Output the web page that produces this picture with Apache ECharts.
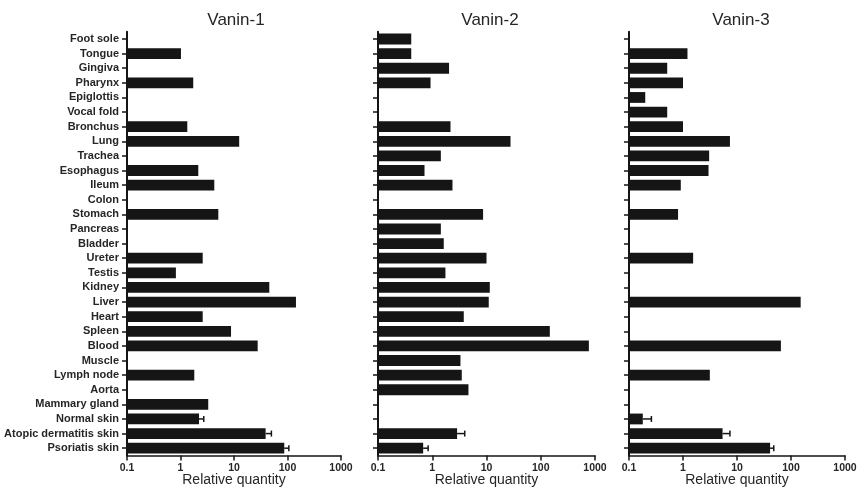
<!DOCTYPE html>
<html>
<head>
<meta charset="utf-8">
<script src="https://cdn.jsdelivr.net/npm/echarts@6/dist/echarts.min.js"></script>
<style>
  html, body { margin: 0; padding: 0; background: #fff; }
  #chart { width: 857px; height: 490px; }
</style>
</head>
<body>
<div id="chart"></div>
<script>
// Tissues, top to bottom
const tissues = [
  'Foot sole', 'Tongue', 'Gingiva', 'Pharynx', 'Epiglottis', 'Vocal fold',
  'Bronchus', 'Lung', 'Trachea', 'Esophagus', 'Ileum', 'Colon', 'Stomach',
  'Pancreas', 'Bladder', 'Ureter', 'Testis', 'Kidney', 'Liver', 'Heart',
  'Spleen', 'Blood', 'Muscle', 'Lymph node', 'Aorta', 'Mammary gland',
  'Normal skin', 'Atopic dermatitis skin', 'Psoriatis skin'
];

// Relative quantity per tissue (null = not detected)
const vanin1 = [null, 1.02, null, 1.73, null, null, 1.34, 12.5, null, 2.15, 4.28, null, 5.09,
  null, null, 2.6, 0.82, 45.7, 144, 2.6, 8.8, 27.7, null, 1.81, null, 3.3,
  2.22, 39, 87];
const vanin2 = [0.41, 0.41, 2.04, 0.93, null, null, 2.17, 27.7, 1.44, 0.72, 2.36, null, 8.65,
  1.44, 1.63, 10.0, 1.75, 11.5, 11.0, 3.81, 147, 771, 3.31, 3.5, 4.65, null,
  null, 2.87, 0.68];
const vanin3 = [null, 1.21, 0.51, 1.0, 0.2, 0.51, 1.0, 7.4, 3.05, 2.97, 0.91, null, 0.81,
  null, null, 1.54, null, null, 151, null, null, 65, null, 3.14, null, null,
  0.18, 5.4, 41];

// SEM for the skin samples (null = no error bar)
const vanin1Sem = [null, null, null, null, null, null, null, null, null, null, null, null, null,
  null, null, null, null, null, null, null, null, null, null, null, null, null,
  0.5, 11, 19];
const vanin2Sem = [null, null, null, null, null, null, null, null, null, null, null, null, null,
  null, null, null, null, null, null, null, null, null, null, null, null, null,
  null, 1.1, 0.16];
const vanin3Sem = [null, null, null, null, null, null, null, null, null, null, null, null, null,
  null, null, null, null, null, null, null, null, null, null, null, null, null,
  0.08, 2.0, 7];

const panelTitles = ['Vanin-1', 'Vanin-2', 'Vanin-3'];
const axisTitle = 'Relative quantity';
const xMin = 0.1, xMax = 1000;

const FONT = "'Liberation Sans', Arial, Helvetica, sans-serif";
const INK = '#151515';
const TEXT = '#262626';

const panels = [
  { values: vanin1, sem: vanin1Sem, left: 127, width: 214, center: 231 },
  { values: vanin2, sem: vanin2Sem, left: 378, width: 217, center: 485 },
  { values: vanin3, sem: vanin3Sem, left: 629, width: 216, center: 736 }
];

function bandOf(api) {
  return Math.abs(api.coord([xMin, 1])[1] - api.coord([xMin, 0])[1]);
}

// Bars grow from the left edge of the log axis
function renderBar(params, api) {
  const idx = api.value(0);
  const v = api.value(1);
  const base = api.coord([xMin, idx]);
  const end = api.coord([v, idx]);
  const h = bandOf(api) * 0.74;
  return {
    type: 'rect',
    shape: { x: base[0], y: end[1] - h / 2, width: end[0] - base[0], height: h },
    style: { fill: INK }
  };
}

// One-sided whisker: mean -> mean + SEM, with a cap
function renderErr(params, api) {
  const idx = api.value(0);
  const mean = api.value(1);
  const sem = api.value(2);
  const a = api.coord([mean, idx]);
  const b = api.coord([mean + sem, idx]);
  const cap = 3;
  return {
    type: 'group',
    children: [
      { type: 'line', shape: { x1: a[0], y1: a[1], x2: b[0], y2: b[1] },
        style: { stroke: INK, lineWidth: 1.5 } },
      { type: 'line', shape: { x1: b[0], y1: b[1] - cap, x2: b[0], y2: b[1] + cap },
        style: { stroke: INK, lineWidth: 1.5 } }
    ]
  };
}

const option = {
  backgroundColor: '#fff',
  animation: false,
  title: panels.map((p, i) => ({
    text: panelTitles[i],
    left: p.center,
    top: 7,
    textAlign: 'center',
    textStyle: { fontFamily: FONT, fontSize: 17, fontWeight: 'normal', color: TEXT }
  })),
  grid: panels.map(p => ({
    left: p.left, width: p.width, top: 31.7, bottom: 34.5,
    containLabel: false, outerBoundsMode: 'none'
  })),
  xAxis: panels.map((p, i) => ({
    type: 'log',
    logBase: 10,
    gridIndex: i,
    min: xMin,
    max: xMax,
    splitLine: { show: false },
    minorTick: { show: false },
    axisLine: { show: true, lineStyle: { color: INK, width: 1.5 } },
    axisTick: { show: true, length: 5, inside: false, lineStyle: { color: INK, width: 1.5 } },
    axisLabel: {
      margin: 7,
      fontFamily: FONT, fontSize: 10.5, fontWeight: 'bold', color: TEXT,
      formatter: v => (v < 1 ? v.toFixed(1) : String(Math.round(v)))
    },
    name: axisTitle,
    nameLocation: 'middle',
    nameGap: 18,
    nameMoveOverlap: false,
    nameTextStyle: { fontFamily: FONT, fontSize: 14, color: TEXT }
  })),
  yAxis: panels.map((p, i) => ({
    type: 'category',
    gridIndex: i,
    data: tissues,
    inverse: true,
    axisLine: { show: true, lineStyle: { color: INK, width: 2 } },
    axisTick: { show: true, alignWithLabel: true, length: 5, lineStyle: { color: INK, width: 1.5 } },
    axisLabel: {
      show: i === 0,
      interval: 0,
      margin: 8,
      fontFamily: FONT, fontSize: 11, fontWeight: 'bold', color: TEXT
    },
    splitLine: { show: false }
  })),
  series: panels.flatMap((p, i) => {
    const barData = [];
    const errData = [];
    p.values.forEach((v, k) => {
      if (v != null) barData.push([k, v]);
      if (v != null && p.sem[k] != null) errData.push([k, v, p.sem[k]]);
    });
    return [
      {
        type: 'custom', xAxisIndex: i, yAxisIndex: i,
        renderItem: renderErr,
        encode: { x: 1, y: 0 },
        data: errData, z: 2
      },
      {
        type: 'custom', xAxisIndex: i, yAxisIndex: i,
        renderItem: renderBar,
        encode: { x: 1, y: 0 },
        data: barData, z: 3
      }
    ];
  })
};

const chart = echarts.init(document.getElementById('chart'), null, { renderer: 'canvas' });
chart.setOption(option);
</script>
</body>
</html>
